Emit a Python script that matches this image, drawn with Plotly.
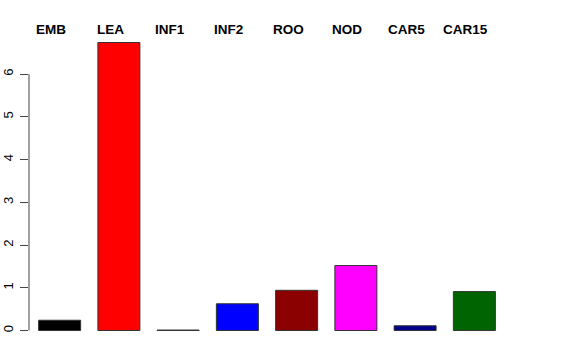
import plotly.graph_objects as go

categories = ["EMB", "LEA", "INF1", "INF2", "ROO", "NOD", "CAR5", "CAR15"]
values = [0.24, 6.74, 0.01, 0.625, 0.94, 1.52, 0.11, 0.91]
colors = ["#000000", "#FF0000", "#00CD00", "#0000FF", "#8B0000", "#FF00FF", "#00008B", "#006400"]
y_ticks = [0, 1, 2, 3, 4, 5, 6]

xpos = list(range(len(categories)))

fig = go.Figure()
fig.add_trace(go.Bar(
    x=xpos, y=values, width=0.709,
    marker=dict(color=colors, line=dict(color="#333333", width=1)),
    hoverinfo="skip", showlegend=False,
))

for i, c in enumerate(categories):
    fig.add_annotation(x=i - 0.145, xref="x", y=1 + 1.3 / 311, yref="paper",
                       text="<b>" + c + "</b>", showarrow=False,
                       xanchor="center", yanchor="middle",
                       font=dict(family="Liberation Sans", size=13.5, color="#000000"))

# R-style axis line spanning only the tick range
fig.add_shape(type="line", xref="paper", x0=0, x1=0, yref="y",
              y0=min(y_ticks), y1=max(y_ticks), line=dict(color="#444444", width=1))

fig.update_layout(
    width=576, height=360,
    margin=dict(l=29, r=71, t=31, b=18, autoexpand=False),
    paper_bgcolor="white", plot_bgcolor="white",
    xaxis=dict(range=[-0.517, 7.517], visible=False, automargin=False),
    yaxis=dict(range=[-0.2696, 7.0096], showgrid=False, zeroline=False,
               showline=False, ticks="outside", ticklen=8, tickwidth=1,
               tickcolor="#444444", tickvals=y_ticks, tickangle=-90,
               automargin=False, ticklabelstandoff=2,
               tickfont=dict(family="Liberation Sans", size=13, color="#000000")),
    bargap=0.29,
)

fig.write_html("out.html")
